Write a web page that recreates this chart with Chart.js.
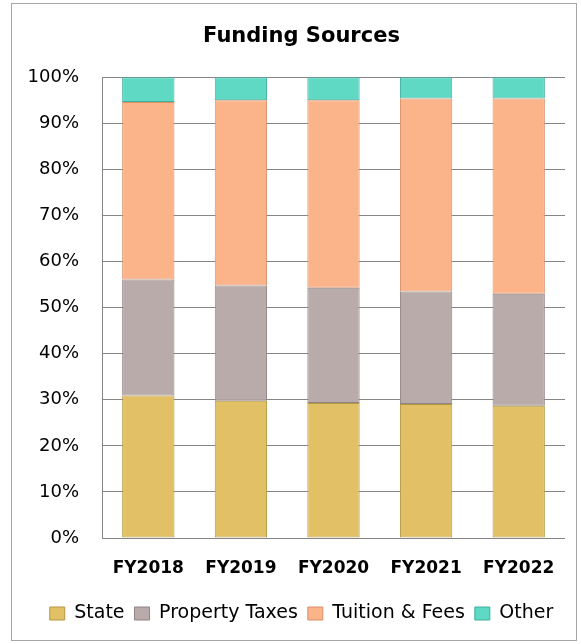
<!DOCTYPE html>
<html>
<head>
<meta charset="utf-8">
<title>Funding Sources</title>
<script src="https://cdn.jsdelivr.net/npm/chart.js@4.4.1/dist/chart.umd.min.js"></script>
<style>
  html, body { margin: 0; padding: 0; background: #fff; }
  #wrap { position: relative; width: 581px; height: 644px; }
</style>
</head>
<body>
<div id="wrap"><canvas id="fundingChart" width="581" height="644"></canvas></div>
<script>
// Datos (porcentaje de cada fuente por año fiscal)
const years = ['FY2018', 'FY2019', 'FY2020', 'FY2021', 'FY2022'];
const state = [30.9, 29.8, 29.3, 29.1, 28.7];
const propertyTaxes = [25.2, 25.0, 25.0, 24.4, 24.3];
const tuitionFees = [38.5, 40.2, 40.7, 41.9, 42.4];
const other = [5.4, 5.0, 5.0, 4.6, 4.6];
const yTicks = [0, 10, 20, 30, 40, 50, 60, 70, 80, 90, 100];

const ctx = document.getElementById('fundingChart').getContext('2d');
let fundingChart;

// Marco gris alrededor de todo el gráfico
const frame = {
    id: 'frame',
    beforeDraw(chart) {
        const c = chart.ctx;
        c.save();
        c.fillStyle = '#fff';
        c.fillRect(0, 0, chart.width, chart.height);
        c.strokeStyle = '#a6a6a6';
        c.lineWidth = 1;
        c.strokeRect(11.5, 3.5, 565, 637);
        c.restore();
    },
    // las etiquetas del eje Y se recortan al ancho del eje; lo ensanchamos solo para eso
    afterLayout(chart) {
        chart.scales.y.left = 12;
    }
};

function serie(label, data, fill, edge) {
    return {
        label: label,
        data: data,
        backgroundColor: fill,
        borderColor: edge,
        borderWidth: 1,
        borderSkipped: false,
        barPercentage: 0.565,
        categoryPercentage: 1
    };
}

function initFundingChart() {
    fundingChart = new Chart(ctx, {
        type: 'bar',
        data: {
            labels: years,
            datasets: [
                serie('State', state, '#e2c066', '#b39743'),
                serie('Property Taxes', propertyTaxes, '#b9abaa', '#8f8584'),
                serie('Tuition & Fees', tuitionFees, '#fbb38a', '#d98f68'),
                serie('Other', other, '#5fd8c4', '#3fae9c')
            ]
        },
        plugins: [frame],
        options: {
            responsive: false,
            animation: false,
            layout: { padding: { left: 38, right: 16, top: 12, bottom: 11 } },
            scales: {
                x: {
                    stacked: true,
                    grid: { display: false, drawTicks: false },
                    border: { display: false },
                    ticks: {
                        color: '#000',
                        padding: 20,
                        font: { family: 'DejaVu Sans', size: 17, weight: 'bold' }
                    },
                    afterFit(scale) { scale.height = 56; }
                },
                y: {
                    stacked: true,
                    min: 0,
                    max: 100,
                    afterBuildTicks(scale) { scale.ticks = yTicks.map(v => ({ value: v })); },
                    grid: { color: '#868686', lineWidth: 1, drawTicks: false },
                    border: { display: true, color: '#868686' },
                    ticks: {
                        color: '#000',
                        padding: 23,
                        font: { family: 'DejaVu Sans', size: 18 },
                        callback: v => v + '%'
                    },
                    afterFit(scale) { scale.width = 64; }
                }
            },
            plugins: {
                title: {
                    display: true,
                    text: 'Funding Sources',
                    color: '#000',
                    font: { family: 'DejaVu Sans', size: 21, weight: 'bold' },
                    padding: { top: 12, bottom: 28 }
                },
                legend: {
                    position: 'bottom',
                    labels: {
                        color: '#000',
                        boxWidth: 15,
                        boxHeight: 13,
                        padding: 10,
                        font: { family: 'DejaVu Sans', size: 19 }
                    }
                },
                tooltip: { enabled: false }
            }
        }
    });
}

document.addEventListener('DOMContentLoaded', function () {
    initFundingChart();
});
</script>
</body>
</html>
